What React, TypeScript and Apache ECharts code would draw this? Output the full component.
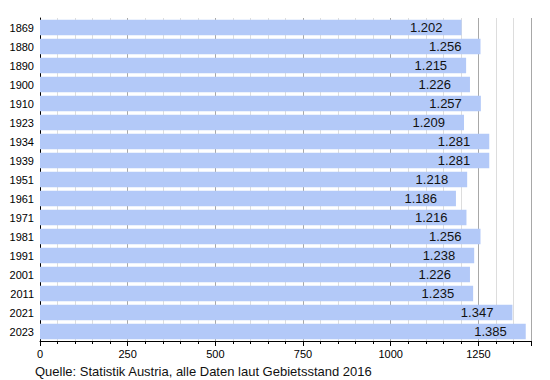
import React, { useEffect, useRef } from "react";
import * as echarts from "echarts";

const years = ["1869","1880","1890","1900","1910","1923","1934","1939","1951","1961","1971","1981","1991","2001","2011","2021","2023"];
const population = [1202,1256,1215,1226,1257,1209,1281,1281,1218,1186,1216,1256,1238,1226,1235,1347,1385];
const tickValues = [0,250,500,750,1000,1250];
const sourceNote = "Quelle: Statistik Austria, alle Daten laut Gebietsstand 2016";

const fmt = (v: number) => {
  const s = String(Math.round(v));
  return s.replace(/\B(?=(\d{3})+(?!\d))/g, ".");
};

export default function App() {
  const ref = useRef<HTMLDivElement>(null);
  useEffect(() => {
    if (!ref.current) return;
    const chart = echarts.init(ref.current, null, { renderer: "svg" });
    const font = "Liberation Sans, Arial, sans-serif";
    chart.setOption({
      animation: false,
      textStyle: { fontFamily: font },
      grid: { left: 40, right: 19, top: 18, bottom: 39, containLabel: false },
      xAxis: {
        type: "value",
        min: 0,
        max: 1400,
        interval: 250,
        axisLine: { show: true, lineStyle: { color: "#000", width: 1 } },
        axisTick: { show: true, length: 5, lineStyle: { color: "#000" } },
        minorTick: { show: true, splitNumber: 5, length: 3, lineStyle: { color: "#000" } },
        splitLine: { show: true, lineStyle: { color: "#a8a8a8", width: 1 } },
        minorSplitLine: { show: true, lineStyle: { color: "#dddddd", width: 1 } },
        axisLabel: {
          color: "#000",
          fontSize: 11,
          fontFamily: font,
          margin: 7,
          formatter: (v: number) => (tickValues.includes(v) ? String(v) : ""),
        },
      },
      yAxis: {
        type: "category",
        data: years,
        inverse: true,
        axisLine: { show: true, lineStyle: { color: "#000", width: 1 } },
        axisTick: { show: false },
        axisLabel: { color: "#000", fontSize: 11, fontFamily: font, margin: 6 },
      },
      series: [
        {
          type: "bar",
          data: population,
          barCategoryGap: "18%",
          itemStyle: { color: "#b3c9f8" },
          label: {
            show: true,
            position: "insideRight",
            distance: 19,
            color: "#111",
            fontSize: 13,
            fontFamily: font,
            formatter: (p: any) => fmt(p.value),
          },
        },
      ],
      graphic: [
        {
          type: "text",
          left: 35,
          top: 365,
          style: { text: sourceNote, fontSize: 13, fill: "#111", fontFamily: font },
        },
      ],
    });
    return () => chart.dispose();
  }, []);
  return <div ref={ref} style={{ position: "absolute", left: 0, top: 0, width: 550, height: 380 }} />;
}
